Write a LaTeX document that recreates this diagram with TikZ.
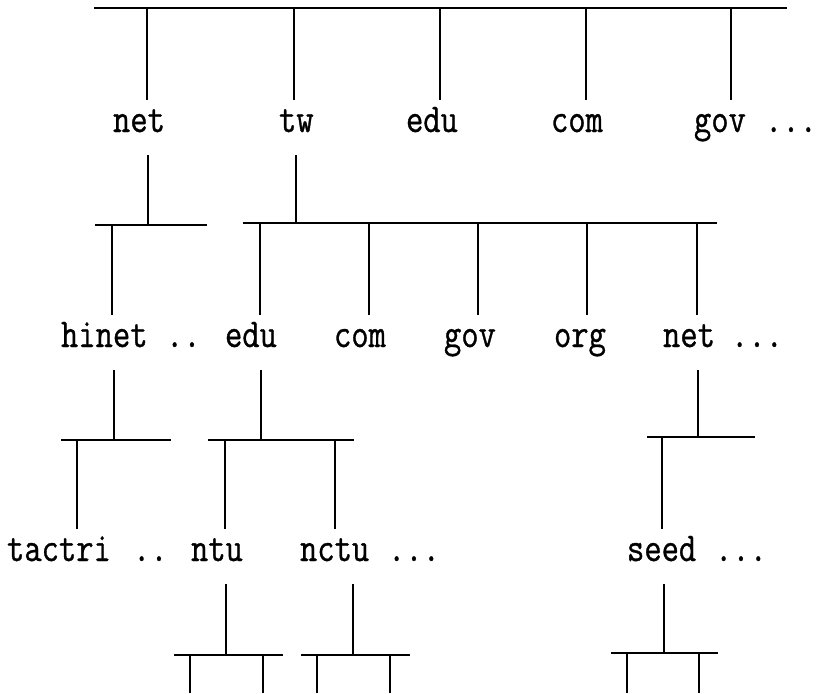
\documentclass[tikz,border=0pt]{standalone}
\usepackage{fontspec}
\newfontfamily\lblfont[FakeStretch=0.82,FakeBold=0.8]{Latin Modern Mono}
\begin{document}
\begin{tikzpicture}[x=1pt,y=-1pt,
  lbl/.style={font=\lblfont\fontsize{41pt}{45pt}\selectfont, inner sep=0pt, outer sep=0pt,
              anchor=base west, text height=32pt, text depth=23pt},
  ln/.style={line width=1.7pt, line cap=butt},
  barln/.style={line width=2.2pt}]
\useasboundingbox (0,0) rectangle (818,693);

% ---------- labels ----------
% level 1
\node[lbl] (net1) at (113,132) {net};
\node[lbl] (tw)   at (279,132) {tw};
\node[lbl] (edu1) at (406,132) {edu};
\node[lbl] (com1) at (551,132) {com};
\node[lbl] (gov1) at (694,132) {gov};
\node[lbl] (dotsA) at (765,132) {...};
% level 2
\node[lbl] (hinet) at (61,347) {hinet};
\node[lbl] (dotsB) at (166,347) {..};
\node[lbl] (edu2) at (225,347) {edu};
\node[lbl] (com2) at (334,347) {com};
\node[lbl] (gov2) at (444,347) {gov};
\node[lbl] (org2) at (554,347) {org};
\node[lbl] (net2) at (663,347) {net};
\node[lbl] (dotsC) at (731,347) {...};
% level 3
\node[lbl] (tactri) at (7,561) {tactri};
\node[lbl] (dotsD) at (133,561) {..};
\node[lbl] (ntu)  at (191,561) {ntu};
\node[lbl] (nctu) at (300,561) {nctu};
\node[lbl] (dotsE) at (388,561) {...};
\node[lbl] (seed) at (627,561) {seed};
\node[lbl] (dotsF) at (715,561) {...};

% ---------- bars ----------
\coordinate (b0L) at (94,8);   \coordinate (b0R) at (787,8);
\coordinate (bAL) at (95,225); \coordinate (bAR) at (207,225);
\coordinate (bBL) at (243,223);\coordinate (bBR) at (717,223);
\coordinate (bCL) at (61,440); \coordinate (bCR) at (171,440);
\coordinate (bDL) at (208,440);\coordinate (bDR) at (354,440);
\coordinate (bEL) at (647,437);\coordinate (bER) at (755,437);
\coordinate (bFL) at (174,655);\coordinate (bFR) at (283,655);
\coordinate (bGL) at (301,655);\coordinate (bGR) at (410,655);
\coordinate (bHL) at (611,653);\coordinate (bHR) at (718,653);
\foreach \b in {0,A,B,C,D,E,F,G,H}{\draw[barln] (b\b L) -- (b\b R);}

% ---------- connection points on bars ----------
% top bar to level 1
\coordinate (t1) at (147,8);  \coordinate (t2) at (294,8);
\coordinate (t3) at (440,8);  \coordinate (t4) at (586,8);
\coordinate (t5) at (731,8);
\draw[ln] (t1) -- (t1 |- net1.north);
\draw[ln] (t2) -- (t2 |- tw.north);
\draw[ln] (t3) -- (t3 |- edu1.north);
\draw[ln] (t4) -- (t4 |- com1.north);
\draw[ln] (t5) -- (t5 |- gov1.north);
% level 1 down to bars
\coordinate (u1) at (148,225); \coordinate (u2) at (296,223);
\draw[ln] (u1 |- net1.south) -- (u1);
\draw[ln] (u2 |- tw.south) -- (u2);
% bars to level 2
\coordinate (s1) at (112,225);
\coordinate (s2) at (260,223); \coordinate (s3) at (369,223);
\coordinate (s4) at (478,223); \coordinate (s5) at (587,223);
\coordinate (s6) at (697,223);
\draw[ln] (s1) -- (s1 |- hinet.north);
\draw[ln] (s2) -- (s2 |- edu2.north);
\draw[ln] (s3) -- (s3 |- com2.north);
\draw[ln] (s4) -- (s4 |- gov2.north);
\draw[ln] (s5) -- (s5 |- org2.north);
\draw[ln] (s6) -- (s6 |- net2.north);
% level 2 down to bars
\coordinate (w1) at (114,440); \coordinate (w2) at (261,440);
\coordinate (w3) at (698,437);
\draw[ln] (w1 |- hinet.south) -- (w1);
\draw[ln] (w2 |- edu2.south) -- (w2);
\draw[ln] (w3 |- net2.south) -- (w3);
% bars to level 3
\coordinate (p1) at (77,440);  \coordinate (p2) at (225,440);
\coordinate (p3) at (335,440); \coordinate (p4) at (662,437);
\draw[ln] (p1) -- (p1 |- tactri.north);
\draw[ln] (p2) -- (p2 |- ntu.north);
\draw[ln] (p3) -- (p3 |- nctu.north);
\draw[ln] (p4) -- (p4 |- seed.north);
% level 3 down to bars
\coordinate (q1) at (226,655); \coordinate (q2) at (353,655);
\coordinate (q3) at (664,653);
\draw[ln] (q1 |- ntu.south) -- (q1);
\draw[ln] (q2 |- nctu.south) -- (q2);
\draw[ln] (q3 |- seed.south) -- (q3);
% open ends at the bottom
\coordinate (e1) at (190,693); \coordinate (e2) at (263,693);
\coordinate (e3) at (317,693); \coordinate (e4) at (390,693);
\coordinate (e5) at (627,693); \coordinate (e6) at (699,693);
\draw[ln] (e1 |- bFL) -- (e1);
\draw[ln] (e2 |- bFL) -- (e2);
\draw[ln] (e3 |- bGL) -- (e3);
\draw[ln] (e4 |- bGL) -- (e4);
\draw[ln] (e5 |- bHL) -- (e5);
\draw[ln] (e6 |- bHL) -- (e6);
\end{tikzpicture}
\end{document}
